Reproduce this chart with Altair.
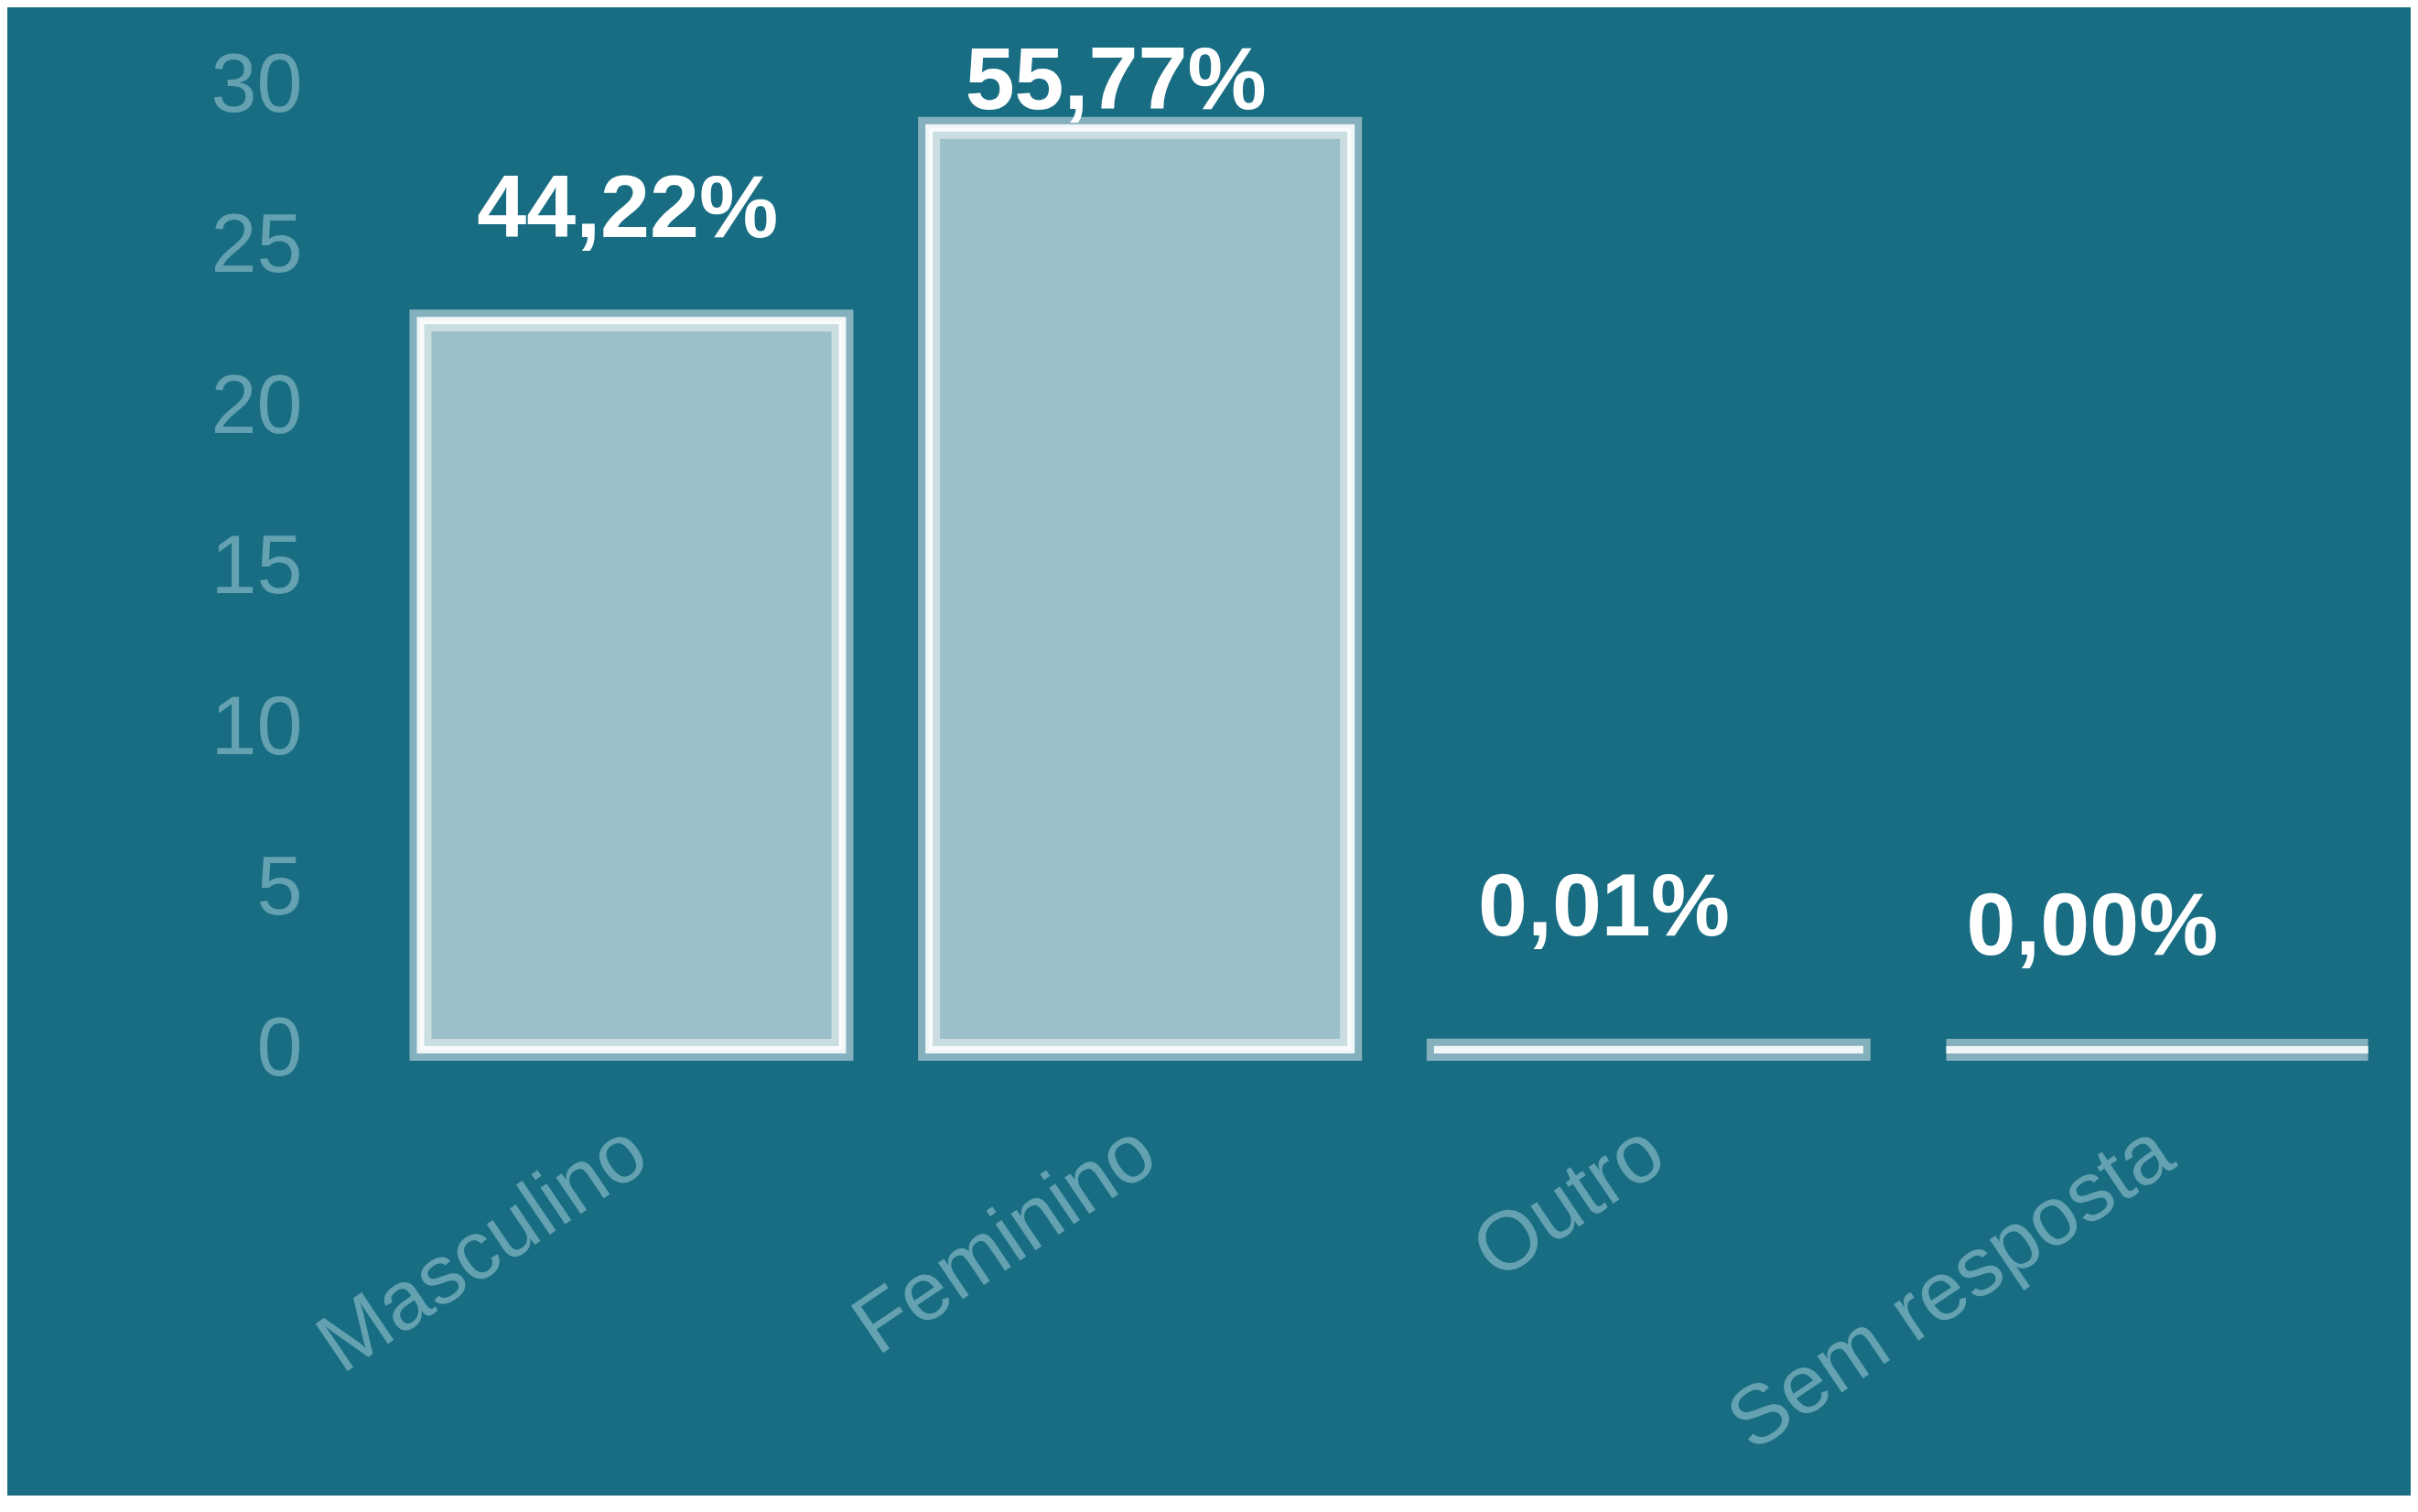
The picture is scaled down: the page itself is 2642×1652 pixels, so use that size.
import altair as alt
import pandas as pd

categories = ["Masculino", "Feminino", "Outro", "Sem resposta"]
values = [22.7, 28.7, 0.005, 0.0]
percent_labels = ["44,22%", "55,77%", "0,01%", "0,00%"]
label_pos = [25.3, 29.3, 3.55, 2.95]
y_ticks = [0, 5, 10, 15, 20, 25, 30]

BG = "#186d82"
AXIS_C = "#64a1b1"

df = pd.DataFrame({
    "cat": categories,
    "value": values,
    "label": percent_labels,
    "label_y": label_pos,
})

y_axis = alt.Axis(
    title=None, domain=False, ticks=False, grid=False, values=y_ticks,
    labelPadding=20, labelFontSize=90, labelFont="Liberation Sans",
    labelColor=AXIS_C, labelFlush=False,
)

x_enc = alt.X(
    "cat:N",
    sort=categories,
    scale=alt.Scale(paddingInner=0.1704, paddingOuter=0.1403, align=0.702),
    axis=alt.Axis(
        title=None, domain=False, ticks=False, grid=False,
        labelAngle=-34, labelAlign="right", labelBaseline="top",
        labelPadding=66, labelOffset=-17, labelFontSize=91,
        labelFont="Liberation Sans",
        labelColor=AXIS_C, labelLimit=0, labelOverlap=False,
    ),
)
y_scale = alt.Scale(domain=[0, 30], nice=False, zero=True)
y_enc = alt.Y("value:Q", scale=y_scale, axis=y_axis)

base = alt.Chart(df)

bars_wide = base.mark_bar(
    fill="white", fillOpacity=0.57,
    stroke="white", strokeOpacity=0.47, strokeWidth=24,
).encode(x=x_enc, y=y_enc)

bars_line = base.mark_bar(
    fill="white", fillOpacity=0.0,
    stroke="white", strokeOpacity=0.88, strokeWidth=8,
).encode(x=x_enc, y=y_enc)

labels = base.mark_text(
    font="Liberation Sans", fontSize=97, fontWeight="bold",
    color="white", align="center", baseline="alphabetic",
).encode(
    x=alt.X("cat:N", sort=categories,
            scale=alt.Scale(type="point", padding=0.641, align=0.491),
            axis=None),
    y=alt.Y("label_y:Q", scale=y_scale, axis=y_axis),
    text="label:N",
)

bars = alt.layer(bars_wide, bars_line)
chart = alt.layer(bars, labels).resolve_scale(x="independent").properties(
    width=2284,
    height=1053,
    background=BG,
    padding={"left": 342, "top": 86, "right": 0, "bottom": 487},
    autosize=alt.AutoSizeParams(type="none"),
).configure_view(stroke=None)

chart.save("out.html", embed_options={"renderer": "svg", "actions": False})
